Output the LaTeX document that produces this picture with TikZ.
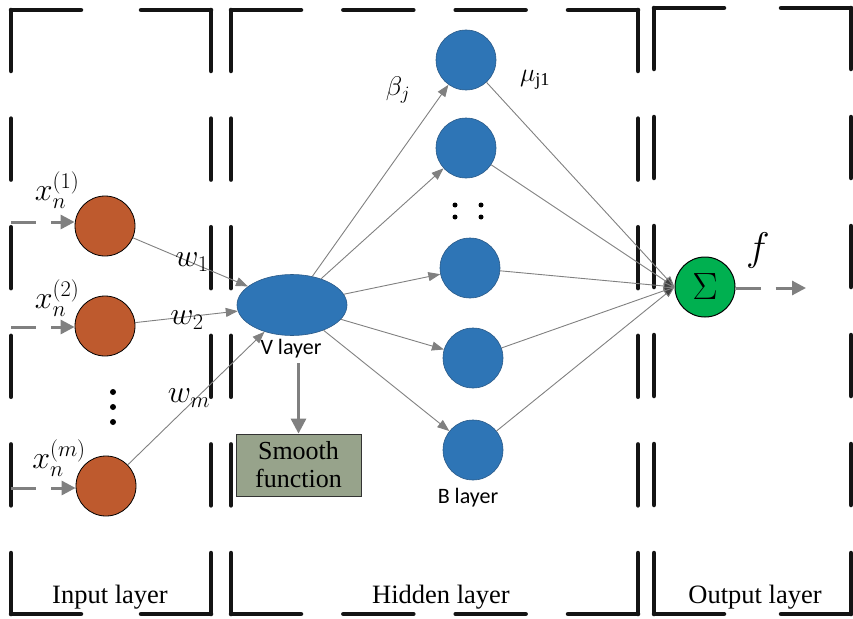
\RequirePackage{fix-cm}
\documentclass[tikz,border=0pt]{standalone}
\usepackage{fontspec}
\setmainfont{Liberation Serif}
\newfontfamily\calib{Carlito}
\usetikzlibrary{arrows.meta,shapes.geometric}
\definecolor{inorange}{HTML}{BE5A2E}
\definecolor{nblue}{HTML}{2E75B6}
\definecolor{nblueedge}{HTML}{2A5A88}
\definecolor{sgreen}{HTML}{00B050}
\definecolor{smoothfill}{HTML}{97A38B}
\definecolor{conngray}{HTML}{808080}
% one dashed side from corner to corner, dashes at both ends
% #1,#2 start coordinate, #3,#4 end coordinate, #5 length, #6 dash length, #7 nominal gap
\newcommand{\dside}[7]{%
  \pgfmathsetmacro{\ndash}{max(2,round((#5+#7)/(#6+#7)))}%
  \pgfmathsetmacro{\offlen}{(#5-\ndash*#6)/(\ndash-1)}%
  \draw[framestyle, dash pattern=on #6pt off \offlen pt] (#1,#2) -- (#3,#4);}
\newcommand{\dashedframe}[4]{%
  \pgfmathsetmacro{\wlen}{#3-#1}%
  \pgfmathsetmacro{\hlen}{#4-#2}%
  \dside{#1}{#2}{#3}{#2}{\wlen}{70}{46}%
  \dside{#1}{#4}{#3}{#4}{\wlen}{70}{46}%
  \dside{#1}{#2}{#1}{#4}{\hlen}{61}{44}%
  \dside{#3}{#2}{#3}{#4}{\hlen}{61}{44}}
\begin{document}
\begin{tikzpicture}[x=1pt,y=-1pt,
  framestyle/.style={draw=black!92, line width=4.5pt, line cap=round},
  inode/.style={circle, draw=black, line width=0.8pt, fill=inorange, minimum size=60pt, inner sep=0pt},
  bnode/.style={circle, draw=nblueedge, line width=0.6pt, fill=nblue, minimum size=60pt, inner sep=0pt},
  conn/.style={draw=conngray, line width=0.9pt, -{Triangle[length=12pt,width=9pt,fill=conngray]}},
  sumconn/.style={draw=conngray, line width=0.9pt, -{Triangle[length=11pt,width=8pt,fill=black!75]}},
  dasharrow/.style={draw=conngray, line width=3pt, dash pattern=on 25pt off 15pt, -{Triangle[length=14pt,width=14pt,fill=conngray]}},
  mathlbl/.style={inner sep=0pt, font=\fontsize{32}{36}\selectfont},
  sanslbl/.style={inner sep=0pt, font=\calib\fontsize{22}{26}\selectfont},
  layerlbl/.style={inner sep=0pt, anchor=base, font=\fontsize{26.5}{30}\selectfont},
  dotmark/.style={circle, fill=black, inner sep=0pt, minimum size=6pt}
]
\useasboundingbox (0,0) rectangle (853,618);

% dashed layer frames
\dashedframe{11}{10}{211}{614}
\dashedframe{231}{10}{638}{614}
\dashedframe{654}{8}{851}{614}

% input nodes
\node[inode] (i1) at (105,226) {};
\node[inode] (i2) at (105,326) {};
\node[inode] (i3) at (106,486) {};
\node[dotmark] (d1) at (113,392) {};
\node[dotmark] (d2) at (113,407) {};
\node[dotmark] (d3) at (113,422) {};

\coordinate (s1) at (11,222);
\coordinate (s2) at (11,327);
\coordinate (s3) at (11,488);
\draw[dasharrow] (s1) -- (i1.west |- s1);
\draw[dasharrow] (s2) -- (i2.west |- s2);
\draw[dasharrow] (s3) -- (i3.west |- s3);

\node[mathlbl] (x1) at (57,190) {$x_n^{(1)}$};
\node[mathlbl] (x2) at (57,298) {$x_n^{(2)}$};
\node[mathlbl] (x3) at (59,458) {$x_n^{(m)}$};

% V layer
\node[ellipse, draw=nblueedge, line width=0.6pt, fill=nblue, minimum width=110pt, minimum height=61pt, inner sep=0pt] (V) at (292,305) {};
\node[sanslbl] (Vl) at (291,349) {V layer};

\draw[conn] (i1) -- (V);
\draw[conn] (i2) -- (V);
\draw[conn] (i3) -- (V);

\node[mathlbl] (w1) at (192,262) {$w_1$};
\node[mathlbl] (w2) at (187,320) {$w_2$};
\node[mathlbl] (wm) at (189,398) {$w_m$};

% smooth function
\node[draw=black!80, line width=0.8pt, fill=smoothfill, minimum width=125pt, minimum height=62pt, inner sep=0pt, align=center, font=\fontsize{26}{28}\selectfont] (sm) at (298.5,465) {Smooth\\function};
\coordinate (vs) at (298.5,363);
\draw[draw=conngray, line width=3pt, -{Triangle[length=15pt,width=15pt,fill=conngray]}] (vs) -- (sm.north);

% B layer
\node[bnode] (b1) at (466,60) {};
\node[bnode] (b2) at (466,148) {};
\node[bnode] (b3) at (470,268) {};
\node[bnode] (b4) at (473,358) {};
\node[bnode] (b5) at (473,450) {};
\node[sanslbl] (Bl) at (468,498) {B layer};
\node[dotmark, minimum size=5pt] (e1) at (455,205) {};
\node[dotmark, minimum size=5pt] (e2) at (455,217) {};
\node[dotmark, minimum size=5pt] (e3) at (481,205) {};
\node[dotmark, minimum size=5pt] (e4) at (481,217) {};

\foreach \b in {b1,b2,b3,b4,b5} { \draw[conn] (V) -- (\b); }

\node[mathlbl, font=\fontsize{27}{30}\selectfont] (beta) at (398,90) {$\beta_j$};
\node[mathlbl, font=\fontsize{26}{28}\selectfont] (mu) at (535,80) {$\mu_{\mathrm{j1}}$};

% output
\node[circle, draw=black, line width=1pt, fill=sgreen, minimum size=60pt, inner sep=0pt, font=\fontsize{38}{40}\selectfont] (sig) at (705,287) {$\Sigma$};
\foreach \b in {b1,b2,b3,b4,b5} { \draw[sumconn] (\b) -- (sig.west); }
\coordinate (oend) at (806,288);
\draw[dasharrow] (sig.east |- oend) -- (oend);
\node[mathlbl, font=\fontsize{40}{44}\selectfont] (f) at (758,250) {$f$};

% layer labels
\node[layerlbl] (L1) at (110,603) {Input layer};
\node[layerlbl] (L2) at (441,603) {Hidden layer};
\node[layerlbl] (L3) at (755,603) {Output layer};
\end{tikzpicture}
\end{document}
